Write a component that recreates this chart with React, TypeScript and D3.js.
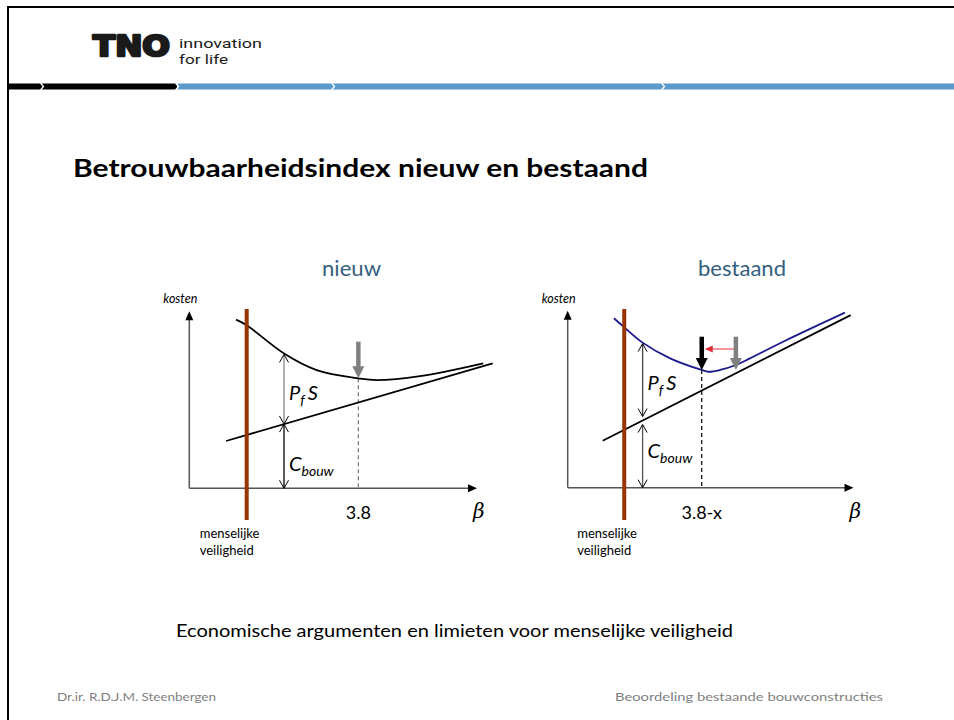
import React from "react";
import * as d3 from "d3";

// ---- Data (beta on x, kosten on y; arbitrary units) ----
const nieuwLineBeta = [1.28, 10.57];
const nieuwLineCost = [2.68, 7.08];
const nieuwCurveBeta = [1.63, 2.0, 3.3, 4.44, 5.89, 6.53, 8.04, 10.24];
const nieuwCurveCost = [9.56, 9.24, 7.64, 6.7, 6.23, 6.13, 6.35, 7.08];

const bestaandLineBeta = [1.22, 9.86];
const bestaandLineCost = [2.66, 9.78];
const bestaandCurveBeta = [1.61, 1.97, 2.61, 3.57, 4.67, 4.9, 5.31, 5.86, 6.35, 7.63, 9.66];
const bestaandCurveCost = [9.6, 9.09, 8.22, 7.33, 6.67, 6.57, 6.67, 6.95, 7.33, 8.37, 9.92];

const humanSafetyBeta = [2.0, 1.97]; // nieuw, bestaand
const pfsBeta = [3.3, 2.61];
const optimumBeta = [5.89, 4.67];
const optimumLabels = ["3.8", "3.8-x"];
const oldOptimumBeta = 5.86; // grey arrow in "bestaand"
const chartTitles = ["nieuw", "bestaand"];

const slideTitle = "Betrouwbaarheidsindex nieuw en bestaand";
const caption = "Economische argumenten en limieten voor menselijke veiligheid";
const footerLeft = "Dr.ir. R.D.J.M. Steenbergen";
const footerRight = "Beoordeling bestaande bouwconstructies";

const FONT = "Lato, 'Open Sans', sans-serif";

type Side = {
  ox: number;
  oy: number;
  axisEnd: number;
  lineB: number[];
  lineC: number[];
  curveB: number[];
  curveC: number[];
  curveColor: string;
  idx: number;
};

function interpLine(b: number[], c: number[], x: number) {
  return c[0] + ((x - b[0]) * (c[1] - c[0])) / (b[1] - b[0]);
}

function Chart({ s }: { s: Side }) {
  const x = d3.scaleLinear().domain([0, 10]).range([s.ox, s.ox + 287]);
  const y = d3.scaleLinear().domain([0, 10]).range([s.oy, s.oy - 176.5]);
  const curvePts = s.curveB.map((b, i) => [b, s.curveC[i]] as [number, number]);
  const curveGen = d3
    .line<[number, number]>()
    .x((d) => x(d[0]))
    .y((d) => y(d[1]))
    .curve(d3.curveCatmullRom.alpha(0.5));
  const curvePath = curveGen(curvePts) || "";
  const interpCurve = (b: number) => {
    const i = d3.bisectLeft(s.curveB, b);
    const i0 = Math.max(1, Math.min(s.curveB.length - 1, i));
    const t = (b - s.curveB[i0 - 1]) / (s.curveB[i0] - s.curveB[i0 - 1]);
    return s.curveC[i0 - 1] + t * (s.curveC[i0] - s.curveC[i0 - 1]);
  };

  const pfsX = x(pfsBeta[s.idx]);
  const pfsTop = y(interpCurve(pfsBeta[s.idx])) + 1;
  const pfsMid = y(interpLine(s.lineB, s.lineC, pfsBeta[s.idx]));
  const optX = x(optimumBeta[s.idx]);
  const optTip = y(interpCurve(optimumBeta[s.idx]));
  const hsX = x(humanSafetyBeta[s.idx]);
  const gapTop = s.idx === 1 ? 4 : 0;

  const openHead = (px: number, py: number, dir: number, color: string) => (
    <path
      d={`M${px - 4.5},${py - dir * 8} L${px},${py} L${px + 4.5},${py - dir * 8}`}
      fill="none"
      stroke={color}
      strokeWidth={1}
    />
  );
  const thickArrow = (px: number, top: number, tip: number, color: string) => (
    <g>
      <line x1={px} x2={px} y1={top} y2={tip - 10} stroke={color} strokeWidth={4.5} />
      <path d={`M${px - 6},${tip - 12} L${px + 6},${tip - 12} L${px},${tip} Z`} fill={color} />
    </g>
  );

  const cbouwTop = pfsMid + gapTop;
  const cbouwBot = s.oy;
  const pfsBot = pfsMid - gapTop;

  return (
    <g>
      <text
        x={s.idx === 0 ? 322 : 698}
        y={276}
        fontFamily={FONT}
        fontSize={21}
        textLength={s.idx === 0 ? 59 : 88}
        lengthAdjust="spacingAndGlyphs"
        fill="#35607f"
      >
        {chartTitles[s.idx]}
      </text>
      {/* axes */}
      <line x1={s.ox} x2={s.ox} y1={s.oy} y2={s.oy - 170} stroke="#555" strokeWidth={1.5} />
      <path d={`M${s.ox - 4},${s.oy - 168} L${s.ox + 4},${s.oy - 168} L${s.ox},${s.oy - 177} Z`} fill="#000" />
      <line x1={s.ox} x2={s.axisEnd - 8} y1={s.oy} y2={s.oy} stroke="#555" strokeWidth={1.5} />
      <path d={`M${s.axisEnd - 9},${s.oy - 4} L${s.axisEnd - 9},${s.oy + 4} L${s.axisEnd},${s.oy} Z`} fill="#000" />
      <text x={s.ox - 26} y={303} fontFamily={FONT} fontStyle="italic" fontSize={12.5} fill="#000">
        kosten
      </text>
      <text x={s.axisEnd - 4} y={518} fontFamily="'DejaVu Serif', serif" fontStyle="italic" fontSize={20} fill="#000">
        β
      </text>

      {/* dashed optimum line */}
      <line
        x1={optX}
        x2={optX}
        y1={optTip}
        y2={s.oy}
        stroke={s.idx === 0 ? "#777" : "#000"}
        strokeWidth={1.2}
        strokeDasharray="4,3"
      />
      <text x={optX} y={519} textAnchor="middle" fontFamily={FONT} fontSize={18} fill="#000">
        {optimumLabels[s.idx]}
      </text>

      {/* total cost curve and construction cost line */}
      <path d={curvePath} fill="none" stroke={s.curveColor} strokeWidth={1.8} />
      <line
        x1={x(s.lineB[0])}
        y1={y(s.lineC[0])}
        x2={x(s.lineB[1])}
        y2={y(s.lineC[1])}
        stroke="#000"
        strokeWidth={1.8}
      />

      {/* PfS and Cbouw dimension arrows */}
      <line x1={pfsX} x2={pfsX} y1={pfsTop} y2={pfsBot} stroke={s.idx === 0 ? "#888" : "#444"} strokeWidth={1.3} />
      {openHead(pfsX, pfsTop, -1, "#000")}
      {openHead(pfsX, pfsBot, 1, "#000")}
      <line x1={pfsX} x2={pfsX} y1={cbouwTop} y2={cbouwBot} stroke={s.idx === 0 ? "#000" : "#555"} strokeWidth={1.3} />
      {openHead(pfsX, cbouwTop, -1, "#000")}
      {openHead(pfsX, cbouwBot, 1, "#000")}

      <text x={pfsX + 5} y={s.idx === 0 ? 400 : 390} fontFamily={FONT} fontStyle="italic" fontSize={20} fill="#000">
        P<tspan fontSize={14} dy={5}>f</tspan>
        <tspan dy={-5} dx={3}>S</tspan>
      </text>
      <text x={pfsX + 5} y={s.idx === 0 ? 471 : 458} fontFamily={FONT} fontStyle="italic" fontSize={20} fill="#000">
        C<tspan fontSize={14} dy={5}>bouw</tspan>
      </text>

      {/* optimum arrows */}
      {s.idx === 0 ? (
        thickArrow(optX, 341.7, optTip, "#808080")
      ) : (
        <g>
          {thickArrow(x(oldOptimumBeta), 336.7, 370, "#808080")}
          {thickArrow(optX, 336.7, optTip, "#000")}
          <line x1={x(oldOptimumBeta) - 2} x2={optX + 10} y1={349} y2={349} stroke="#e0303c" strokeWidth={1} />
          <path d={`M${optX + 3},349 L${optX + 11},345.5 L${optX + 11},352.5 Z`} fill="#e0303c" />
        </g>
      )}

      {/* human safety limit */}
      <line x1={hsX} x2={hsX} y1={309} y2={520} stroke="#993300" strokeWidth={4} />
      <text x={hsX - 47} y={538} fontFamily={FONT} fontSize={13} fill="#000">
        menselijke
      </text>
      <text x={hsX - 47} y={555} fontFamily={FONT} fontSize={13} fill="#000">
        veiligheid
      </text>
    </g>
  );
}

export default function App() {
  const sides: Side[] = [
    {
      ox: 189.3,
      oy: 488.3,
      axisEnd: 477,
      lineB: nieuwLineBeta,
      lineC: nieuwLineCost,
      curveB: nieuwCurveBeta,
      curveC: nieuwCurveCost,
      curveColor: "#000",
      idx: 0,
    },
    {
      ox: 567.7,
      oy: 487.7,
      axisEnd: 853.5,
      lineB: bestaandLineBeta,
      lineC: bestaandLineCost,
      curveB: bestaandCurveBeta,
      curveC: bestaandCurveCost,
      curveColor: "#1a1a8c",
      idx: 1,
    },
  ];
  const notches = [42, 177, 333, 663];
  return (
    <svg
      width={954}
      height={720}
      style={{ position: "absolute", left: 0, top: 0, display: "block", background: "#fff" }}
    >
      <rect x={0} y={0} width={954} height={720} fill="#fff" />
      {/* slide frame */}
      <line x1={8} x2={954} y1={7} y2={7} stroke="#000" strokeWidth={2} />
      <line x1={8} x2={8} y1={6} y2={720} stroke="#000" strokeWidth={2} />

      {/* logo */}
      <text
        x={93}
        y={56}
        fontFamily="'DejaVu Sans', sans-serif"
        fontWeight="bold"
        fontSize={29}
        textLength={77}
        lengthAdjust="spacingAndGlyphs"
        fill="#1a1a1a"
        stroke="#1a1a1a"
        strokeWidth={2.6}
        strokeLinejoin="round"
      >
        TNO
      </text>
      <text
        x={179}
        y={47.5}
        fontFamily="Roboto, sans-serif"
        fontSize={13.5}
        textLength={83}
        lengthAdjust="spacingAndGlyphs"
        fill="#1a1a1a"
      >
        innovation
      </text>
      <text
        x={179}
        y={63.5}
        fontFamily="Roboto, sans-serif"
        fontSize={13.5}
        textLength={49}
        lengthAdjust="spacingAndGlyphs"
        fill="#1a1a1a"
      >
        for life
      </text>

      {/* header bar */}
      <rect x={8} y={83.5} width={169} height={6} fill="#000" />
      <rect x={178} y={83.5} width={776} height={6} fill="#5b9acb" />
      <line x1={178} x2={954} y1={83.5} y2={83.5} stroke="#a9c9e6" strokeWidth={1} />
      {notches.map((n) => (
        <path key={n} d={`M${n - 1.5},83 L${n + 1.5},86.5 L${n - 1.5},90`} fill="none" stroke="#fff" strokeWidth={1.3} />
      ))}

      {/* title */}
      <text
        x={73}
        y={177}
        fontFamily={FONT}
        fontWeight="bold"
        fontSize={25}
        textLength={575}
        lengthAdjust="spacingAndGlyphs"
        fill="#000"
      >
        {slideTitle}
      </text>

      {sides.map((s) => (
        <Chart key={s.idx} s={s} />
      ))}

      <text x={176} y={637} fontFamily={FONT} fontSize={17} textLength={557} lengthAdjust="spacingAndGlyphs" fill="#000">
        {caption}
      </text>
      <text x={57} y={701} fontFamily={FONT} fontSize={12} textLength={159} lengthAdjust="spacingAndGlyphs" fill="#7f7f7f">
        {footerLeft}
      </text>
      <text x={615} y={701} fontFamily={FONT} fontSize={12} textLength={268} lengthAdjust="spacingAndGlyphs" fill="#7f7f7f">
        {footerRight}
      </text>
    </svg>
  );
}
